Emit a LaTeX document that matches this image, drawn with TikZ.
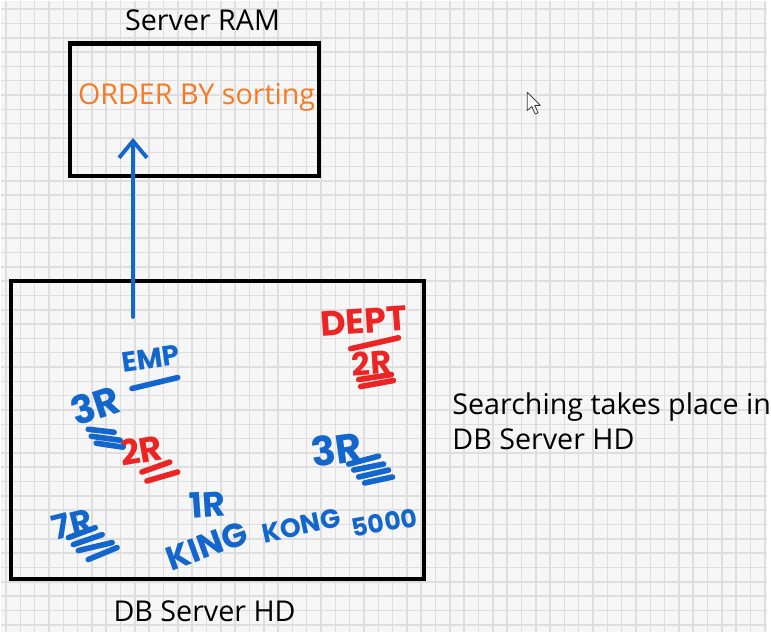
\documentclass[tikz,border=0pt]{standalone}
\usepackage{fontspec}
\setmainfont{Open Sans}
\newfontfamily\penfont{Poppins}
\usetikzlibrary{arrows.meta}
\definecolor{paper}{RGB}{246,246,246}
\definecolor{gridgray}{RGB}{222,222,222}
\definecolor{inkblue}{RGB}{18,102,204}
\definecolor{inkred}{RGB}{236,36,36}
\definecolor{inkorange}{RGB}{245,122,36}

\begin{document}
\begin{tikzpicture}[x=0.025cm,y=-0.025cm]
	\tikzset{
		box/.style={draw=black,line width=2.9pt,inner sep=0pt},
		hand/.style={font=\fontsize{20.5}{25}\selectfont,inner sep=0pt},
		pen/.style={text=inkblue,inner sep=0pt,font=\penfont\bfseries\fontsize{#1}{#1}\selectfont},
		redpen/.style={pen=#1,text=inkred},
		scrawl/.style={inkblue,line width=4pt,line cap=round},
		redscrawl/.style={scrawl,inkred},
	}
	% squared paper
	\fill[paper] (0,0) rectangle (771,635);
	\foreach \k in {0,...,53} \draw[gridgray,line width=1.1pt] (5.3+14.4*\k,0) -- ++(0,635);
	\foreach \k in {0,...,43} \draw[gridgray,line width=1.1pt] (0,8.4+14.4*\k) -- ++(771,0);

	% the two boxes
	\node[box,minimum width=6.25cm,minimum height=3.325cm] (ram) at (195,109.5) {};
	\node[box,minimum width=10.4cm,minimum height=7.5cm] (hd) at (218,432) {};
	\node[hand] (ramlabel) at (203,20) {Server RAM};
	\node[hand] (hdlabel) at (205,614) {DB Server HD};
	\node[hand,text=inkorange] (sorting) at (197,97) {ORDER BY sorting};
	\node[hand,align=left,anchor=north west] (note) at (454,394) {Searching takes place in\\DB Server HD};

	% rows go up to RAM
	\coordinate (rows) at (133,318);
	\coordinate (memory) at (133,138);
	\draw[inkblue,line width=2.8pt,line cap=round,-{Straight Barb[length=12pt,width=20pt,line width=2.8pt]}] (rows) -- (memory);

	% tables and row counts
	\node[pen=20,rotate=8] (emp) at (151,360) {EMP};
	\node[pen=28,rotate=18] (empall) at (95,407) {3R};
	\node[redpen=25,rotate=10] (empdept) at (141,452) {2R};
	\node[redpen=25,rotate=4] (dept) at (365,322) {DEPT};
	\node[redpen=23,rotate=4] (deptall) at (373,364) {2R};
	\node[pen=29,rotate=8] (rest) at (338,451) {3R};
	\node[pen=24,rotate=14] (seven) at (72,526) {7R};
	\node[pen=25,rotate=4] (one) at (208,507) {1R};
	\node[pen=24,rotate=20] (king) at (207,548) {KING};
	\node[pen=19,rotate=12] (kong) at (302,528) {KONG};
	\node[pen=18,rotate=10] (sal) at (386,525) {5000};

	\draw[scrawl] (132,390) -- (178,379);
	\draw[scrawl] (88,431) -- (114,434) (91,438) -- (120,442) (96,445) -- (123,449);
	\draw[redscrawl] (142,474) -- (170,464) (147,483) -- (178,474);
	\draw[redscrawl] (352,350) -- (400,339);
	\draw[redscrawl] (360,381) -- (393,376) (362,388) -- (395,382);
	\draw[scrawl] (350,466) -- (380,458) (355,472) -- (385,466) (360,479) -- (390,472) (366,485) -- (394,479);
	\draw[scrawl] (68,540) -- (95,530) (73,547) -- (102,537) (78,553) -- (112,545) (88,562) -- (117,550);

	% mouse pointer
	\draw[black!75,fill=white,line width=0.6pt,line join=round,shift={(529.5,92)},scale=1.15]
		(0,0) -- (0,16) -- (4,12.5) -- (7,19) -- (9.5,18) -- (6.5,11.5) -- (11.5,11.5) -- cycle;
\end{tikzpicture}
\end{document}
